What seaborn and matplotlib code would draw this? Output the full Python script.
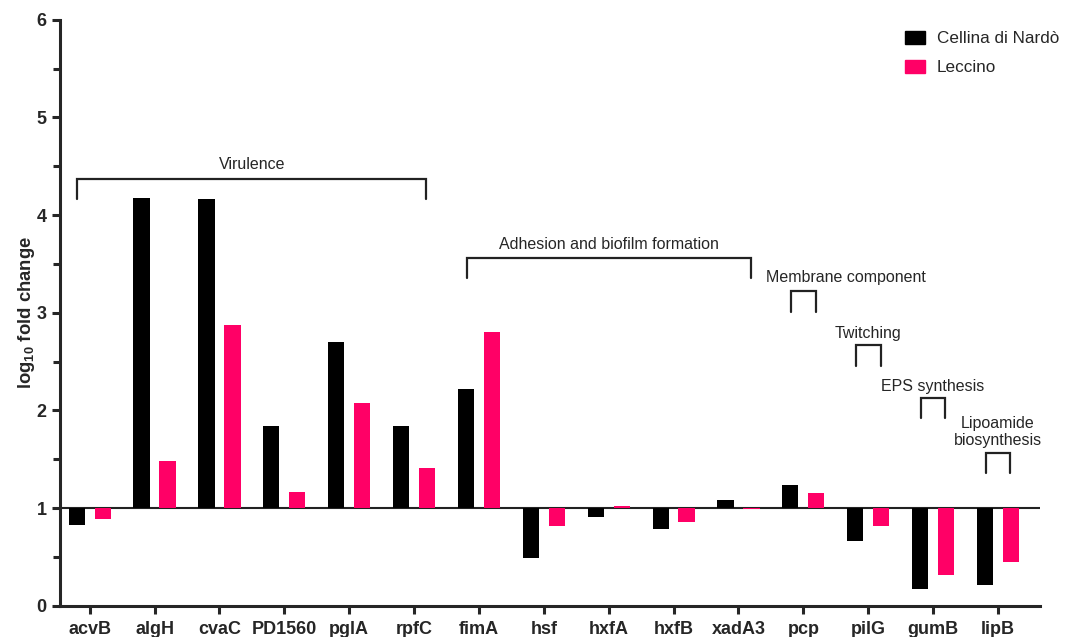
import matplotlib
matplotlib.use("Agg")
import matplotlib.pyplot as plt
import pandas as pd
import seaborn as sns
from matplotlib.patches import Patch
from matplotlib.ticker import MultipleLocator

# data (log10 fold change, baseline 1)
genes = ['acvB', 'algH', 'cvaC', 'PD1560', 'pglA', 'rpfC', 'fimA', 'hsf',
         'hxfA', 'hxfB', 'xadA3', 'pcp', 'pilG', 'gumB', 'lipB']
cellina = [0.83, 4.18, 4.16, 1.84, 2.70, 1.84, 2.22, 0.49,
           0.91, 0.79, 1.08, 1.24, 0.66, 0.17, 0.21]
leccino = [0.89, 1.48, 2.87, 1.16, 2.08, 1.41, 2.80, 0.82,
           1.02, 0.86, 0.99, 1.15, 0.82, 0.32, 0.45]
cultivars = ['Cellina di Nardò', 'Leccino']
colors = ['#000000', '#FF0066']

# functional groups: label, first gene, last gene
groups = ['Virulence', 'Adhesion and biofilm formation', 'Membrane component',
          'Twitching', 'EPS synthesis', 'Lipoamide\nbiosynthesis']
group_first = ['acvB', 'fimA', 'pcp', 'pilG', 'gumB', 'lipB']
group_last = ['rpfC', 'xadA3', 'pcp', 'pilG', 'gumB', 'lipB']

df = pd.DataFrame({'gene': genes * 2,
                   'cultivar': [cultivars[0]] * len(genes) + [cultivars[1]] * len(genes),
                   'value': cellina + leccino})
df['height'] = df['value'] - 1

sns.set_style('ticks')
plt.rcParams['font.family'] = ['Liberation Sans', 'DejaVu Sans']
plt.rcParams['mathtext.fontset'] = 'custom'
plt.rcParams['mathtext.rm'] = 'Liberation Sans:bold'
plt.rcParams['mathtext.default'] = 'rm'

fig = plt.figure(figsize=(10.69, 6.37), dpi=100)
ax = fig.add_axes([0.056, 0.049, 0.917, 0.92])

sns.barplot(data=df, x='gene', y='height', hue='cultivar', palette=colors,
            saturation=1, width=0.8, gap=0.375, errorbar=None, bottom=1,
            linewidth=0, legend=False, ax=ax)

ax.axhline(1, color='#222222', lw=1.5, zorder=0.5)
ax.set_xlim(-0.46, 14.65)
ax.set_ylim(0, 6)
ax.yaxis.set_major_locator(MultipleLocator(1))
ax.yaxis.set_minor_locator(MultipleLocator(0.5))
sns.despine(ax=ax)
for s in ['left', 'bottom']:
    ax.spines[s].set_linewidth(2.2)
ax.tick_params(axis='both', which='major', width=2.2, length=6, labelsize=13)
ax.tick_params(axis='x', pad=5)
ax.tick_params(axis='y', which='minor', width=2.2, length=5)
for lab in ax.get_xticklabels() + ax.get_yticklabels():
    lab.set_fontweight('bold')
ax.set_xlabel('')
ax.set_ylabel(r'log$_{10}$ fold change', fontsize=13.3, fontweight='bold')
ax.yaxis.set_label_coords(-0.0235, 0.5)

# group brackets: (top of bracket, leg length, label centre y, label x shift)
off = 0.19
tops = [4.37, 3.56, 3.22, 2.67, 2.13, 1.56]
drops = [0.21, 0.20, 0.21, 0.21, 0.21, 0.20]
label_y = [4.515, 3.70, 3.36, 2.79, 2.245, 1.78]
label_dx = [0, 0, 0.65, 0, 0, 0]
for lab, g0, g1, h, d, ly, dx in zip(groups, group_first, group_last, tops,
                                     drops, label_y, label_dx):
    x0 = genes.index(g0) - off
    x1 = genes.index(g1) + off
    ax.plot([x0, x0, x1, x1], [h - d, h, h, h - d], color='#222222', lw=1.6,
            solid_joinstyle='miter')
    ax.text((x0 + x1) / 2 + dx, ly, lab, ha='center', va='center',
            fontsize=11.5, linespacing=1.2)

handles = [Patch(color=c, label=l) for c, l in zip(colors, cultivars)]
ax.legend(handles=handles, loc='upper left', bbox_to_anchor=(0.846, 1.007),
          frameon=False, fontsize=12.3, handlelength=1.2, handleheight=0.8,
          handletextpad=0.7, labelspacing=0.78)

fig.savefig('out.png', dpi=100)
